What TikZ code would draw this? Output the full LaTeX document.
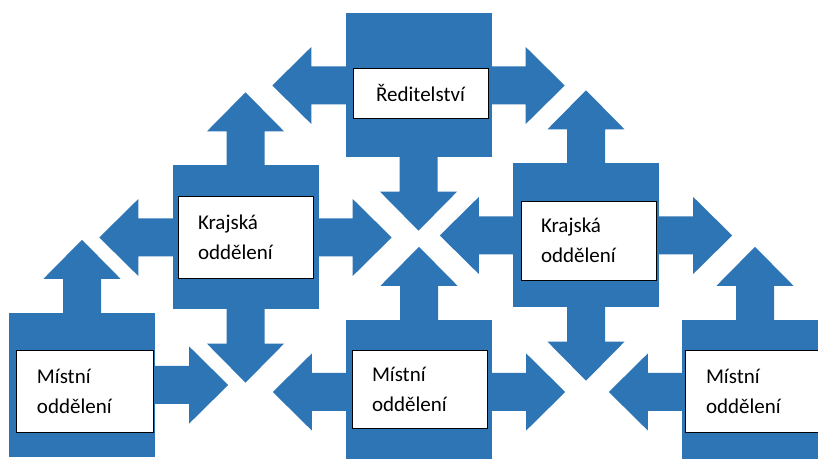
\documentclass[tikz,border=0pt]{standalone}
\usepackage{fontspec}
\setmainfont{Carlito}
\definecolor{officeblue}{RGB}{46,117,182}
\tikzset{
  bluesquare/.style={fill=officeblue, inner sep=0pt, minimum width=146bp, minimum height=144bp},
  textframe/.style={draw=black, line width=0.8bp, fill=white, inner ysep=0pt,
    font=\fontsize{21bp}{30bp}\selectfont},
  labelbox/.style={textframe, inner xsep=20bp, text width=95bp, align=left, minimum height=80bp},
  blockarrow/.pic={
    \fill[officeblue] (-1,-19) -- (34,-19) -- (34,-38.5) -- (73,0) -- (34,38.5) -- (34,19) -- (-1,19) -- cycle;
  },
}
\begin{document}
\begin{tikzpicture}[x=1bp,y=1bp]
  \useasboundingbox (0,0) rectangle (818,459);
  \clip (0,0) rectangle (818,459);
%%
  % Node: dir
  \node[bluesquare] (dir) at (418.5,373.5) {};
  % Node: kraj1
  \node[bluesquare] (kraj1) at (245.5,221.5) {};
  % Node: kraj2
  \node[bluesquare] (kraj2) at (586,223.5) {};
  % Node: mist1
  \node[bluesquare] (mist1) at (82,74) {};
  % Node: mist2
  \node[bluesquare] (mist2) at (419,67) {};
  % Node: mist3
  \node[bluesquare] (mist3) at (755,67) {};
%%
  % Edge: dir -> left, right, down
  \pic[rotate=180] at (dir.west) {blockarrow};
  \pic at (dir.east) {blockarrow};
  \pic[rotate=-90] at (dir.south) {blockarrow};
  % Edge: kraj1 -> all four sides
  \pic[rotate=90] at (kraj1.north) {blockarrow};
  \pic[rotate=180] at (kraj1.west) {blockarrow};
  \pic at (kraj1.east) {blockarrow};
  \pic[rotate=-90] at (kraj1.south) {blockarrow};
  % Edge: kraj2 -> all four sides
  \pic[rotate=90] at (kraj2.north) {blockarrow};
  \pic[rotate=180] at (kraj2.west) {blockarrow};
  \pic at (kraj2.east) {blockarrow};
  \pic[rotate=-90] at (kraj2.south) {blockarrow};
  % Edge: mist1 -> up, right
  \pic[rotate=90] at (mist1.north) {blockarrow};
  \pic at (mist1.east) {blockarrow};
  % Edge: mist2 -> up, left, right
  \pic[rotate=90] at (mist2.north) {blockarrow};
  \pic[rotate=180] at (mist2.west) {blockarrow};
  \pic at (mist2.east) {blockarrow};
  % Edge: mist3 -> up, left
  \pic[rotate=90] at (mist3.north) {blockarrow};
  \pic[rotate=180] at (mist3.west) {blockarrow};
%%
  % Labels
  \node[textframe, minimum width=135bp, minimum height=50bp] (dirtext) at (420.5,366) {Ředitelství};
  \node[labelbox, minimum height=82bp] (kraj1text) at (245.5,222) {Krajská\\oddělení};
  \node[labelbox, minimum height=79bp] (kraj2text) at (588.5,218.5) {Krajská\\oddělení};
  \node[labelbox, minimum width=137bp, minimum height=82bp] (mist1text) at (84.5,68) {Místní\\oddělení};
  \node[labelbox, minimum height=78bp] (mist2text) at (419.5,70) {Místní\\oddělení};
  \node[labelbox, minimum width=137bp, minimum height=82bp] (mist3text) at (753.5,68) {Místní\\oddělení};
%
\end{tikzpicture}
\end{document}
